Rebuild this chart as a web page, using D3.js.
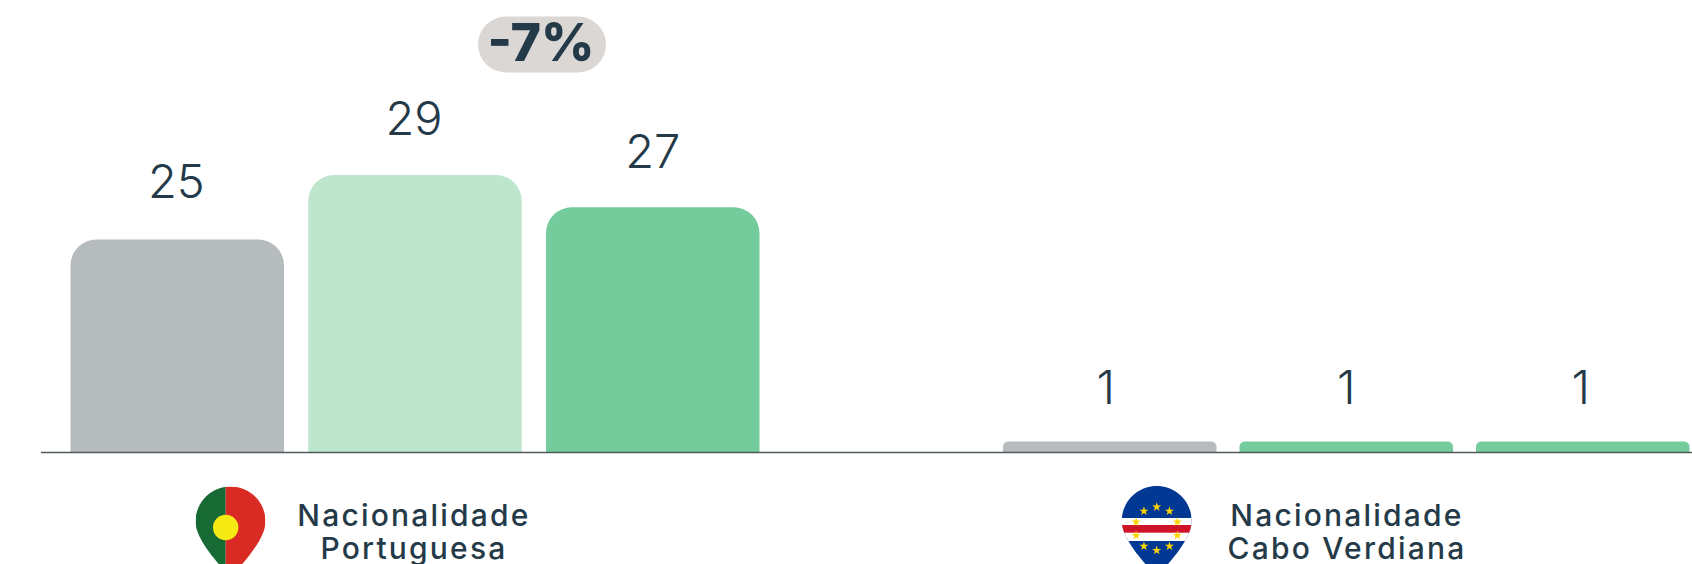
<!DOCTYPE html>
<html>
<head>
<meta charset="utf-8">
<script src="https://cdn.jsdelivr.net/npm/d3@7"></script>
<style>
  html, body { margin: 0; padding: 0; background: #fff; overflow: hidden; }
  svg { display: block; }
  text { font-family: Inter, sans-serif; fill: #243A48; }
</style>
</head>
<body>
<div id="chart"></div>
<script>
// --- DATA ---
const periods = ['A', 'B', 'C'];
const portuguesa = [25, 29, 27];
const caboVerdiana = [1, 1, 1];
const labelPortuguesa = ['Nacionalidade', 'Portuguesa'];
const labelCaboVerdiana = ['Nacionalidade', 'Cabo Verdiana'];
const variationLabel = '-7%';

// --- LAYOUT ---
const width = 1692;
const height = 564;
const baseline = 452;

const svg = d3.select('#chart').append('svg')
  .attr('width', width)
  .attr('height', height);

// the bars in the picture are not proportional to their labels, so the
// scale is piecewise to land on the drawn heights
const y = d3.scaleLinear()
  .domain([0, 1, 25, 29])
  .range([baseline, 441.5, 239.5, 175]);

const groups = [
  { values: portuguesa, label: labelPortuguesa, range: [70.5, 759.5], colors: ['#B6BBBD', '#BDE6CC', '#74CB9B'], labelX: 414, dx: [-1, -1, 0], dy: [42, 40, 39] },
  { values: caboVerdiana, label: labelCaboVerdiana, range: [1003, 1689.5], colors: ['#B6BBBD', '#74CB9B', '#74CB9B'], labelX: 1347, dx: [-4, 0, -2], dy: [37.5, 37.5, 37.5] }
];

// rectangle with only the top corners rounded
function topRounded(x0, x1, top, bottom) {
  const r = Math.min(26, (bottom - top) / 2);
  const p = d3.path();
  p.moveTo(x0, bottom);
  p.lineTo(x0, top + r);
  p.arcTo(x0, top, x0 + r, top, r);
  p.lineTo(x1 - r, top);
  p.arcTo(x1, top, x1, top + r, r);
  p.lineTo(x1, bottom);
  p.closePath();
  return p.toString();
}

// --- BARS ---
groups.forEach(group => {
  const barWidth = 213.5;
  const gap = (group.range[1] - group.range[0] - barWidth * 3) / 2;
  const x = d3.scaleBand()
    .domain(periods)
    .range(group.range)
    .paddingInner(gap / (barWidth + gap));

  const g = svg.append('g');

  g.selectAll('path')
    .data(group.values)
    .join('path')
    .attr('d', (d, i) => topRounded(x(periods[i]), x(periods[i]) + x.bandwidth(), y(d), baseline))
    .attr('fill', (d, i) => group.colors[i]);

  g.selectAll('text')
    .data(group.values)
    .join('text')
    .attr('x', (d, i) => x(periods[i]) + x.bandwidth() / 2 + group.dx[i])
    .attr('y', (d, i) => y(d) - group.dy[i])
    .attr('text-anchor', 'middle')
    .style('font-size', '47px')
    .style('font-weight', 300)
    .text(d => d);

  // category label, two lines
  svg.append('g').selectAll('text')
    .data(group.label)
    .join('text')
    .attr('x', group.labelX)
    .attr('y', (d, i) => 526 + i * 33)
    .attr('text-anchor', 'middle')
    .style('font-size', '30px')
    .style('font-weight', 500)
    .style('letter-spacing', '2.2px')
    .text(d => d);
});

// axis line
svg.append('line')
  .attr('x1', 41).attr('x2', width)
  .attr('y1', baseline + 0.5).attr('y2', baseline + 0.5)
  .attr('stroke', '#4F5A5E')
  .attr('stroke-width', 1.5);

// --- VARIATION PILL ---
svg.append('rect')
  .attr('x', 478).attr('y', 16.5)
  .attr('width', 128).attr('height', 56)
  .attr('rx', 28)
  .attr('fill', '#DAD7D4');

svg.append('text')
  .attr('x', 541).attr('y', 61)
  .attr('text-anchor', 'middle')
  .style('font-size', '52px')
  .style('font-weight', 800)
  .text(variationLabel);

// --- FLAG PINS ---
const pinPath = 'M0,0 C19.3,0 35,15.7 35,35 C35,52 14,76 0,90 C-14,76 -35,52 -35,35 C-35,15.7 -19.3,0 0,0 Z';
const defs = svg.append('defs');
defs.append('clipPath').attr('id', 'pin').append('path').attr('d', pinPath);

// the green/red split sits a little left of the pin centre
const pt = svg.append('g')
  .attr('transform', 'translate(230.5,486.5)')
  .append('g').attr('clip-path', 'url(#pin)');
pt.append('rect').attr('x', -35).attr('y', 0).attr('width', 30.2).attr('height', 90).attr('fill', '#186A35');
pt.append('rect').attr('x', -4.8).attr('y', 0).attr('width', 39.8).attr('height', 90).attr('fill', '#D92A23');
pt.append('circle').attr('cx', -4.8).attr('cy', 41).attr('r', 12.7).attr('fill', '#F5EA14');

const cv = svg.append('g')
  .attr('transform', 'translate(1156.7,486)')
  .append('g').attr('clip-path', 'url(#pin)');
cv.append('rect').attr('x', -35).attr('y', 0).attr('width', 70).attr('height', 90).attr('fill', '#003893');
cv.append('rect').attr('x', -35).attr('y', 32).attr('width', 70).attr('height', 23).attr('fill', '#fff');
cv.append('rect').attr('x', -35).attr('y', 39).attr('width', 70).attr('height', 7.7).attr('fill', '#CF1428');

// ring of ten stars
const star = d3.symbol().type(d3.symbolStar).size(26);
cv.selectAll('path.star')
  .data(d3.range(10))
  .join('path')
  .attr('class', 'star')
  .attr('d', star)
  .attr('fill', '#FFD500')
  .attr('transform', i => {
    const a = i * Math.PI / 5;
    return `translate(${21.7 * Math.sin(a)},${42.7 - 21.7 * Math.cos(a)})`;
  });
</script>
</body>
</html>
